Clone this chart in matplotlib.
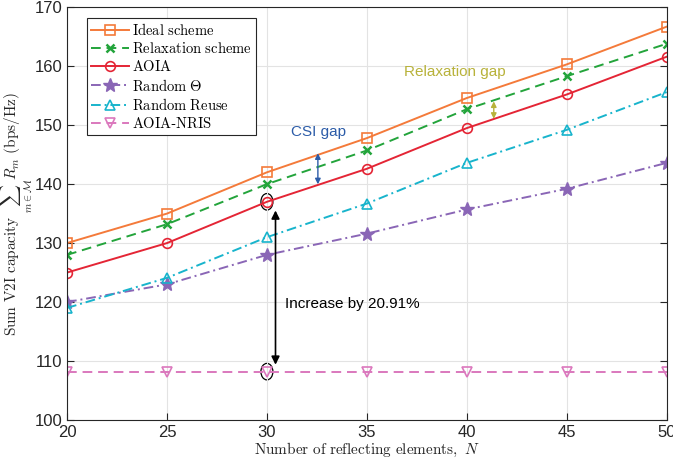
import numpy as np
import matplotlib
matplotlib.use("Agg")
import matplotlib.pyplot as plt
from matplotlib.patches import Ellipse

plt.rcParams["mathtext.fontset"] = "cm"
plt.rcParams["font.family"] = ["Liberation Sans", "DejaVu Sans"]

# ── 数据 ──
N = [20, 25, 30, 35, 40, 45, 50]
ideal = [130.0, 135.0, 142.0, 147.8, 154.6, 160.3, 166.7]
relax = [128.0, 133.2, 140.0, 145.7, 152.7, 158.3, 163.8]
aoia = [125.0, 130.0, 137.0, 142.6, 149.5, 155.2, 161.6]
rand_theta = [120.0, 123.0, 128.0, 131.6, 135.7, 139.2, 143.6]
rand_reuse = [119.0, 124.1, 131.0, 136.7, 143.6, 149.2, 155.6]
nris = [108.2, 108.2, 108.2, 108.2, 108.2, 108.2, 108.2]

labels = [r"$\mathrm{Ideal\ scheme}$", r"$\mathrm{Relaxation\ scheme}$", r"$\mathrm{AOIA}$",
          r"$\mathrm{Random}\ \mathbf{\Theta}$", r"$\mathrm{Random\ Reuse}$", r"$\mathrm{AOIA}$-$\mathrm{NRIS}$"]

fig = plt.figure(figsize=(6.73, 4.68), dpi=100)
ax = fig.add_axes([0.0996, 0.1026, 0.891, 0.882])

ax.plot(N, ideal, color="#f47a3a", ls="-", lw=1.4, marker="s", ms=7, mfc="none", mew=1.2, label=labels[0])
ax.plot(N, relax, color="#23a43b", ls=(0, (5, 3)), lw=1.4, marker="x", ms=6, mew=1.8, label=labels[1])
ax.plot(N, aoia, color="#e42535", ls="-", lw=1.4, marker="o", ms=7, mfc="none", mew=1.2, label=labels[2])
ax.plot(N, rand_theta, color="#8a66b6", ls=(0, (5, 2, 1, 2)), lw=1.4, marker="*", ms=10, label=labels[3])
ax.plot(N, rand_reuse, color="#18b4cc", ls=(0, (5, 2, 1, 2)), lw=1.4, marker="^", ms=7, mfc="none", mew=1.2, label=labels[4])
ax.plot(N, nris, color="#db78bd", ls=(0, (5, 3)), lw=1.4, marker="v", ms=7, mfc="none", mew=1.2, label=labels[5])

ax.set_xlim(20, 50)
ax.set_ylim(100, 170)
ax.set_xticks(N)
ax.set_yticks(np.arange(100, 171, 10))
ax.tick_params(direction="in", labelsize=12, colors="#262626", length=5, top=False, right=True)
ax.grid(True, color="#e3e3e3", lw=0.8)
for s in ax.spines.values():
    s.set_color("#262626")
    s.set_linewidth(0.8)

ax.set_xlabel(r"$\mathrm{Number\ of\ reflecting\ elements,}\ N$", fontsize=11, color="#262626")
ax.set_ylabel(r"$\mathrm{Sum\ V2I\ capacity}\ \sum_{m\in\mathcal{M}} R_m\ \mathrm{(bps/Hz)}$",
              fontsize=11, color="#262626")
ax.xaxis.set_label_coords(0.5, -0.05)
ax.yaxis.set_label_coords(-0.054, 0.5)

leg = ax.legend(loc="upper left", bbox_to_anchor=(0.033, 0.975), fontsize=10.5, fancybox=False,
                edgecolor="#262626", framealpha=1, handlelength=2.6, borderpad=0.3,
                labelspacing=0.22, handletextpad=0.2, borderaxespad=0)
leg.get_frame().set_linewidth(0.8)

# 注释
ax.annotate("", xy=(32.55, 145.7), xytext=(32.55, 139.5),
            arrowprops=dict(arrowstyle="<|-|>", color="#2c5ca8", lw=1.0, mutation_scale=8))
ax.text(32.6, 148.8, "CSI gap", color="#2c5ca8", fontsize=11, ha="center", va="center")

ax.annotate("", xy=(41.35, 154.5), xytext=(41.35, 150.6),
            arrowprops=dict(arrowstyle="<|-|>", color="#b8b23a", lw=1.0, mutation_scale=8))
ax.text(39.4, 159.0, "Relaxation gap", color="#b8b23a", fontsize=11, ha="center", va="center")

ax.annotate("", xy=(30.43, 136.0), xytext=(30.43, 108.9),
            arrowprops=dict(arrowstyle="<|-|>", color="black", lw=1.2, mutation_scale=12))
ax.text(30.9, 119.7, "Increase by 20.91%", color="black", fontsize=11, ha="left", va="center")
ax.add_patch(Ellipse((30, 137.0), 0.6, 2.8, fill=False, ec="black", lw=0.9))
ax.add_patch(Ellipse((30, 108.2), 0.6, 2.8, fill=False, ec="black", lw=0.9))

fig.savefig("out.png", dpi=100)
